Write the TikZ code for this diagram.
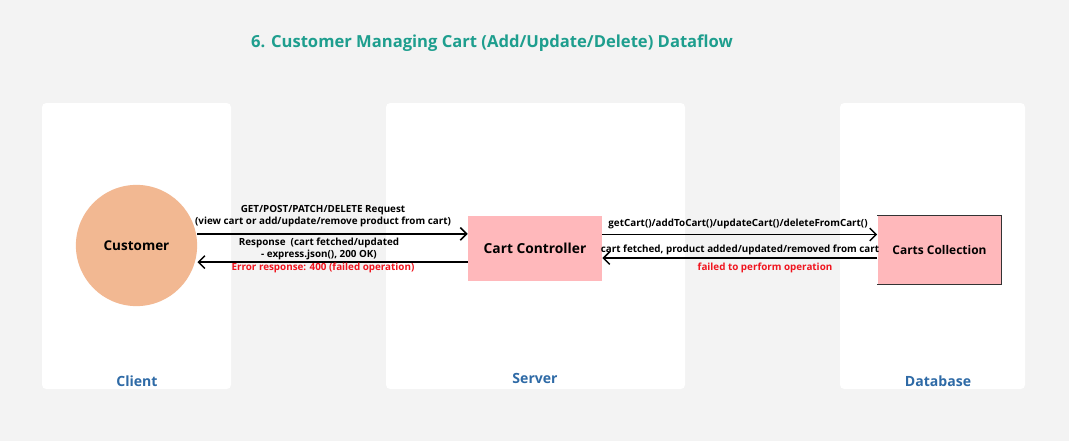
\documentclass[tikz,border=0pt]{standalone}
\usepackage{fontspec}
\setmainfont{Open Sans}
\usepackage{tikz}
\usetikzlibrary{arrows.meta, positioning}
\definecolor{bgcolor}{RGB}{243, 243, 243}
\definecolor{titlecolor}{RGB}{30, 158, 142}
\definecolor{tiercolor}{RGB}{46, 106, 166}
\definecolor{customercolor}{RGB}{242, 184, 146}
\definecolor{cartcolor}{RGB}{255, 184, 187}
\definecolor{errorcolor}{RGB}{240, 20, 30}

\begin{document}
\begin{tikzpicture}[x=0.025cm, y=-0.025cm,
    tier/.style={fill=white, rounded corners=3pt},
    tierlabel/.style={font=\fontsize{10}{12}\selectfont\bfseries, text=tiercolor},
    flow/.style={-{Straight Barb[length=4.5pt, width=9pt, line width=1.1pt]}, line width=1.1pt},
    flowlabel/.style={font=\fontsize{7}{8.5}\selectfont\bfseries, align=center, inner sep=0pt},
    errlabel/.style={flowlabel, text=errorcolor}]
    % Background
    \fill[bgcolor] (0,0) rectangle (1069,441);
    \useasboundingbox (0,0) rectangle (1069,441);

    % Title
    \node[font=\fontsize{11.8}{14}\selectfont\bfseries, text=titlecolor] (title) at (492,43) {6. Customer Managing Cart (Add/Update/Delete) Dataflow};

    % Tiers
    \fill[tier] (42,103) rectangle (231,389);
    \fill[tier] (386,103) rectangle (685,389);
    \fill[tier] (840,103) rectangle (1025,389);
    \node[tierlabel] (client) at (137,381) {Client};
    \node[tierlabel] (server) at (535,378) {Server};
    \node[tierlabel] (database) at (938,381) {Database};

    % Entities
    \node[circle, fill=customercolor, minimum size=3.03cm, font=\fontsize{9.6}{12}\selectfont\bfseries] (cust) at (136.5,245.5) {Customer};
    \node[fill=cartcolor, minimum width=3.35cm, minimum height=1.63cm, font=\fontsize{9.8}{12}\selectfont\bfseries] (ctrl) at (535,248.5) {Cart Controller};
    \node[fill=cartcolor, minimum width=3.1cm, minimum height=1.7cm, font=\fontsize{8.5}{11}\selectfont\bfseries] (coll) at (939.5,250) {Carts Collection};
    \draw[black!80, line width=0.5pt] (coll.north west) -- (coll.north east) -- (coll.south east) -- (coll.south west);

    % Client <-> Server
    \coordinate (req) at ([yshift=0.29cm]cust.east);
    \coordinate (res) at ([yshift=-0.34cm]ctrl.west);
    \draw[flow] (req) -- (req -| ctrl.west);
    \draw[flow] (res) -- (res -| cust.east);
    \node[flowlabel] (reqlbl) at (323,216) {GET/POST/PATCH/DELETE Request\\(view cart or add/update/remove product from cart)};
    \node[flowlabel] (reslbl) at (319,249) {Response\ \ (cart fetched/updated\\- express.json(), 200 OK)};
    \node[errlabel] (errlbl) at (323,268) {Error response: 400 (failed operation)};

    % Server <-> Database
    \coordinate (qry) at ([yshift=0.35cm]ctrl.east);
    \coordinate (ans) at ([yshift=-0.2cm]coll.west);
    \draw[flow] (qry) -- (qry -| coll.west);
    \draw[flow] (ans) -- (ans -| ctrl.east);
    \node[flowlabel] (qrylbl) at (738,224) {getCart()/addToCart()/updateCart()/deleteFromCart()};
    \node[flowlabel] (anslbl) at (740,250) {cart fetched, product added/updated/removed from cart};
    \node[errlabel] (faillbl) at (765,268) {failed to perform operation};

\end{tikzpicture}
\end{document}
